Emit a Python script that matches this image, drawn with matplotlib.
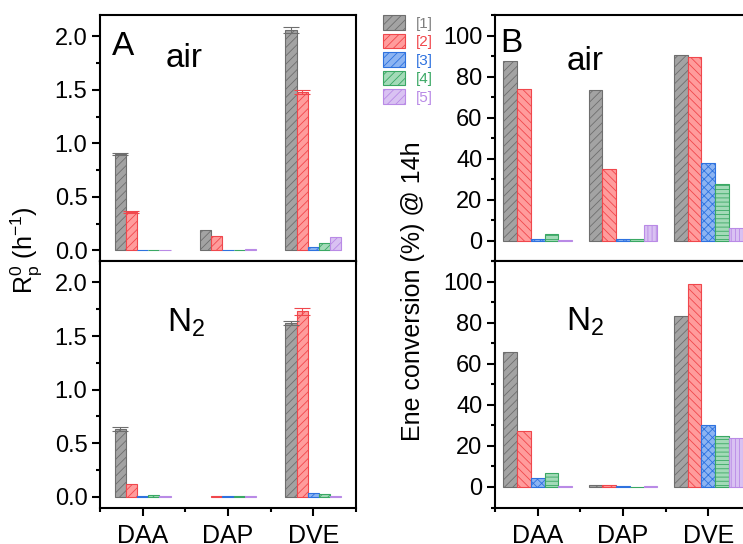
# Polymerisation rate and ene conversion, air vs N2
import numpy as np
import matplotlib.pyplot as plt
from matplotlib.patches import Patch
from matplotlib.ticker import MultipleLocator

plt.rcParams['font.family'] = 'Liberation Sans'
plt.rcParams['mathtext.fontset'] = 'custom'
plt.rcParams['mathtext.rm'] = 'Liberation Sans'
plt.rcParams['mathtext.it'] = 'Liberation Sans:italic'
plt.rcParams['hatch.linewidth'] = 0.6

cats = ['DAA', 'DAP', 'DVE']
series = ['[1]', '[2]', '[3]', '[4]', '[5]']

# R_p^0 (h^-1), one row per series, columns DAA / DAP / DVE
rp_air = [[0.90, 0.19, 2.06],
          [0.36, 0.13, 1.48],
          [0.003, 0.003, 0.03],
          [0.003, 0.003, 0.07],
          [0.003, 0.008, 0.12]]
rp_air_err = [[0.01, 0, 0.03],
              [0.01, 0, 0.02],
              [0, 0, 0],
              [0, 0, 0],
              [0, 0, 0]]
rp_n2 = [[0.63, np.nan, 1.62],
         [0.12, 0.004, 1.73],
         [0.003, 0.003, 0.037],
         [0.012, 0.003, 0.022],
         [0.003, 0.003, 0.008]]
rp_n2_err = [[0.02, 0, 0.02],
             [0, 0, 0.035],
             [0, 0, 0],
             [0, 0, 0],
             [0, 0, 0]]

# ene conversion (%) after 14 h
conv_air = [[87.4, 73.6, 90.3],
            [74.1, 34.8, 89.3],
            [0.8, 0.8, 37.7],
            [3.1, 0.8, 27.5],
            [0.3, 7.7, 6.2]]
conv_n2 = [[65.6, 0.8, 83.2],
           [27.1, 1.1, 99.0],
           [4.2, 0.4, 30.3],
           [7.0, 0.2, 25.0],
           [0.4, 0.4, 23.8]]

faces = ['#a3a3a3', '#ff9c9c', '#8cb4f2', '#a3dab8', '#d9c2f2']
edges = ['#6e6e6e', '#f0474c', '#2e72df', '#3aa864', '#b98ae6']
txtcol = ['#7f7f7f', '#f0474c', '#2e72df', '#3aa864', '#b98ae6']
hatch_a = ['////'] * 5
hatch_b = ['////', '\\\\\\\\', 'xxxx', '----', '||||']

W, H = 743, 544
fig = plt.figure(figsize=(W / 100, H / 100), dpi=100)

def px_axes(x0, x1, ytop, ybot):
    return fig.add_axes([x0 / W, 1 - ybot / H, (x1 - x0) / W, (ybot - ytop) / H])

axA1 = px_axes(100, 356, 15, 261)
axA2 = px_axes(100, 356, 261, 507.5)
axB1 = px_axes(495, 751, 15, 261)
axB2 = px_axes(495, 751, 261, 507.5)

x = np.arange(1, 4)

def draw(ax, data, hatches, w, err=None):
    for i in range(5):
        xs = x + (i - 2) * w
        ax.bar(xs, data[i], w, color=faces[i], edgecolor=edges[i],
               hatch=hatches[i], linewidth=0.8)
        if err is not None:
            e = np.array(err[i], dtype=float)
            m = e > 0
            if m.any():
                ax.errorbar(xs[m], np.array(data[i])[m], yerr=e[m], fmt='none',
                            ecolor=edges[i], elinewidth=0.8, capsize=6, capthick=0.8)

draw(axA1, rp_air, hatch_a, 0.131, rp_air_err)
draw(axA2, rp_n2, hatch_a, 0.131, rp_n2_err)
draw(axB1, conv_air, hatch_b, 0.161)
draw(axB2, conv_n2, hatch_b, 0.161)

for ax in [axA1, axA2, axB1, axB2]:
    ax.set_xlim(0.5, 3.5)
    ax.set_xticks(x)
    ax.set_xticks([0.5, 1.5, 2.5, 3.5], minor=True)
    for s in ax.spines.values():
        s.set_linewidth(1.5)
    ax.tick_params(which='major', direction='out', length=6, width=1.5, labelsize=17, pad=3)
    ax.tick_params(which='minor', direction='out', length=3, width=1.5)
    ax.tick_params(axis='x', which='both', top=False)
    ax.tick_params(axis='y', which='both', right=False)

for ax in [axA1, axA2]:
    ax.set_ylim(-0.1, 2.2)
    ax.yaxis.set_major_locator(MultipleLocator(0.5))
    ax.yaxis.set_minor_locator(MultipleLocator(0.25))
    ax.yaxis.set_major_formatter(plt.FormatStrFormatter('%.1f'))
for ax in [axB1, axB2]:
    ax.set_ylim(-10, 110)
    ax.yaxis.set_major_locator(MultipleLocator(20))
    ax.yaxis.set_minor_locator(MultipleLocator(10))

for ax in [axA1, axB1]:
    ax.set_xticklabels([])
for ax in [axA2, axB2]:
    ax.set_xticklabels(cats, fontsize=18)
    ax.tick_params(axis='x', which='major', pad=6)

big = 24
axA1.text(0.046, 0.837, 'A', transform=axA1.transAxes, fontsize=big, va='baseline')
axA1.text(0.258, 0.789, 'air', transform=axA1.transAxes, fontsize=big, va='baseline')
axA2.text(0.262, 0.712, 'N$_2$', transform=axA2.transAxes, fontsize=big, va='baseline')
axB1.text(0.02, 0.851, 'B', transform=axB1.transAxes, fontsize=big, va='baseline')
axB1.text(0.28, 0.776, 'air', transform=axB1.transAxes, fontsize=big, va='baseline')
axB2.text(0.276, 0.716, 'N$_2$', transform=axB2.transAxes, fontsize=big, va='baseline')

fig.text(26 / W, 1 - 250 / H, r'$\mathrm{R_p^0}$ (h$^{\mathrm{-1}}$)', rotation=90,
         ha='center', va='center', fontsize=18)
fig.text(413 / W, 1 - 291 / H, 'Ene conversion (%) @ 14h', rotation=90,
         ha='center', va='center', fontsize=18)

handles = [Patch(facecolor=faces[i], edgecolor=edges[i], hatch='////', linewidth=0.8)
           for i in range(5)]
leg = fig.legend(handles, series, loc='upper left', bbox_to_anchor=(383 / W, 1 - 15 / H),
                 frameon=False, fontsize=11, handlelength=1.45, handleheight=1.1,
                 labelspacing=0.2, handletextpad=0.7, borderpad=0, borderaxespad=0)
for t, c in zip(leg.get_texts(), txtcol):
    t.set_color(c)

fig.savefig('out.png', dpi=100)
